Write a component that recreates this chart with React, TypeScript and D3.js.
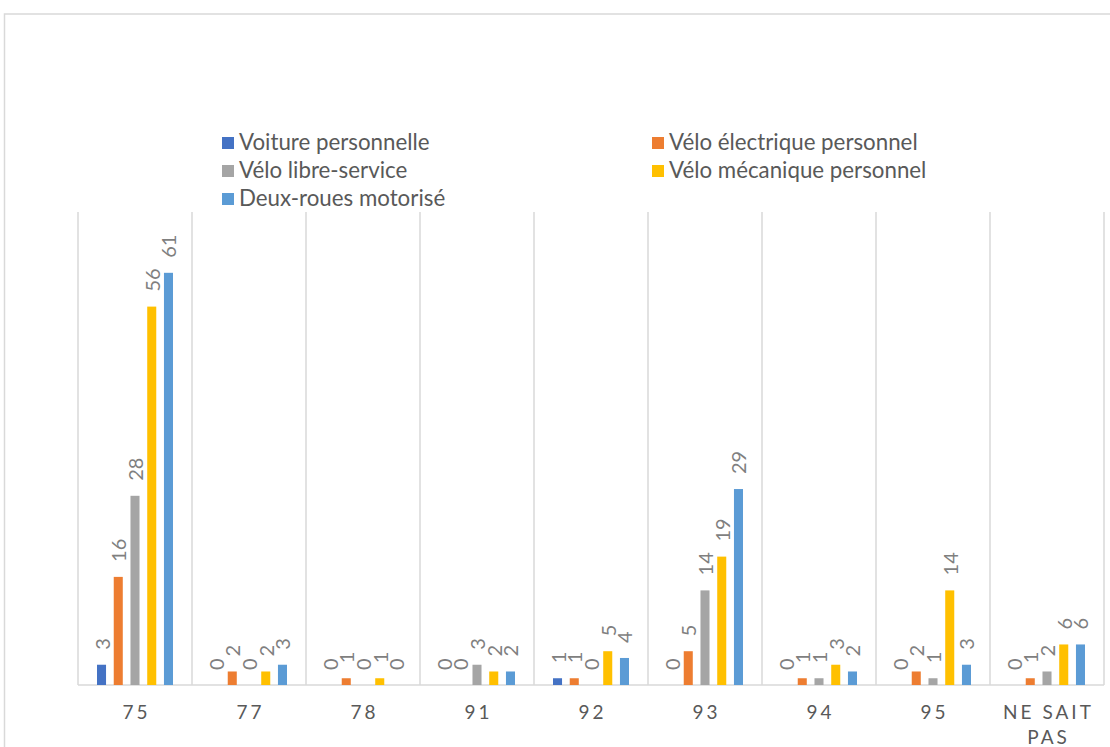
import React from "react";
import * as d3 from "d3";

const categories = ["75", "77", "78", "91", "92", "93", "94", "95", "NE SAIT PAS"];
const seriesNames = [
  "Voiture personnelle",
  "Vélo électrique personnel",
  "Vélo libre-service",
  "Vélo mécanique personnel",
  "Deux-roues motorisé",
];
const seriesColors = ["#4472C4", "#ED7D31", "#A5A5A5", "#FFC000", "#5B9BD5"];
const voiture = [3, 0, 0, 0, 1, 0, 0, 0, 0];
const veloElec = [16, 2, 1, 0, 1, 5, 1, 2, 1];
const veloLibre = [28, 0, 0, 3, 0, 14, 1, 1, 2];
const veloMeca = [56, 2, 1, 2, 5, 19, 3, 14, 6];
const deuxRoues = [61, 3, 0, 2, 4, 29, 2, 3, 6];
const seriesValues = [voiture, veloElec, veloLibre, veloMeca, deuxRoues];

const W = 1110;
const H = 747;
const FONT = "Lato, 'Open Sans', sans-serif";

export default function App() {
  const plotLeft = 78;
  const plotRight = 1104;
  const plotTop = 212;
  const plotBottom = 685;

  const x = d3.scaleBand<string>().domain(categories).range([plotLeft, plotRight]).padding(0);
  const inner = d3
    .scaleBand<string>()
    .domain(seriesNames)
    .range([19, 95])
    .paddingInner(0.46)
    .paddingOuter(0);
  const y = d3.scaleLinear().domain([0, 70]).range([plotBottom, plotTop]);

  const gridXs = categories.map((c) => x(c) as number).concat([plotRight]);

  const legendItems = [
    { i: 0, x: 222, y: 150 },
    { i: 1, x: 652, y: 150 },
    { i: 2, x: 222, y: 178 },
    { i: 3, x: 652, y: 178 },
    { i: 4, x: 222, y: 206 },
  ];

  return (
    <svg
      width={W}
      height={H}
      style={{ position: "absolute", left: 0, top: 0, background: "#fff" }}
      fontFamily={FONT}
    >
      <rect x={0} y={0} width={W} height={H} fill="#fff" />
      <rect x={4.5} y={14} width={W + 20} height={H + 20} fill="none" stroke="#d9d9d9" strokeWidth={1.5} />

      {/* legend */}
      {legendItems.map((it) => (
        <g key={it.i}>
          <rect x={it.x} y={it.y - 13} width={12} height={12} fill={seriesColors[it.i]} />
          <text x={it.x + 17} y={it.y} fontSize={22.3} fill="#595959">
            {seriesNames[it.i]}
          </text>
        </g>
      ))}

      {/* vertical gridlines */}
      {gridXs.map((gx, i) => (
        <line key={i} x1={gx} x2={gx} y1={plotTop} y2={plotBottom} stroke="#d9d9d9" strokeWidth={1.5} />
      ))}
      <line x1={plotLeft} x2={plotRight} y1={plotBottom} y2={plotBottom} stroke="#d9d9d9" strokeWidth={1.5} />

      {/* bars */}
      {seriesValues.map((vals, si) =>
        vals.map((v, ci) => {
          const bx = (x(categories[ci]) as number) + (inner(seriesNames[si]) as number);
          const bw = inner.bandwidth();
          const top = y(v);
          return (
            <g key={`${si}-${ci}`}>
              {v > 0 && <rect x={bx} y={top} width={bw} height={plotBottom - top} fill={seriesColors[si]} />}
              <text
                transform={`translate(${bx + bw / 2},${top - 15}) rotate(-90)`}
                fontSize={20}
                fill="#7f7f7f"
                textAnchor="start"
                dominantBaseline="central"
              >
                {v}
              </text>
            </g>
          );
        })
      )}

      {/* category labels */}
      {categories.map((c) => {
        const cx = (x(c) as number) + x.bandwidth() / 2 + 1.5;
        const lines = c === "NE SAIT PAS" ? ["NE SAIT", "PAS"] : [c];
        return (
          <text key={c} x={cx} y={719} fontSize={19} fill="#595959" textAnchor="middle" letterSpacing={3}>
            {lines.map((l, li) => (
              <tspan key={li} x={cx} dy={li === 0 ? 0 : 25}>
                {l}
              </tspan>
            ))}
          </text>
        );
      })}
    </svg>
  );
}
